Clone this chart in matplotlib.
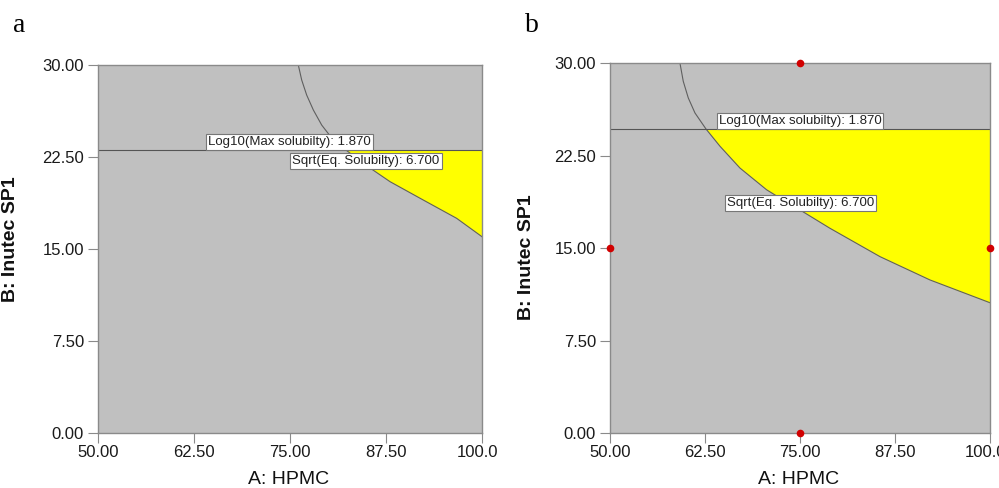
import numpy as np
import matplotlib
matplotlib.use("Agg")
import matplotlib.pyplot as plt
from matplotlib.transforms import Bbox, TransformedBbox

# Axis ranges and ticks
x_ticks = [50.0, 62.5, 75.0, 87.5, 100.0]
y_ticks = [0.0, 7.5, 15.0, 22.5, 30.0]

# Panel a: Sqrt(Eq. Solubility) = 6.700 contour and Log10(Max solubility) = 1.870 line
a_curve_x = [76.08, 76.52, 77.17, 78.04, 79.13, 80.64, 82.16, 84.54,
             88.02, 92.36, 96.70, 100.0]
a_curve_y = [30.0, 28.78, 27.55, 26.33, 25.10, 23.88, 23.13, 21.98,
             20.49, 18.99, 17.50, 16.0]
a_line_y = 23.1

# Panel b
b_curve_x = [59.21, 59.64, 60.30, 61.18, 62.63, 64.47, 67.10, 70.60,
             74.10, 75.00, 78.95, 85.53, 92.10, 100.0]
b_curve_y = [30.0, 28.54, 27.19, 25.97, 24.67, 23.27, 21.50, 19.74,
             18.40, 18.10, 16.61, 14.31, 12.42, 10.57]
b_line_y = 24.67

# Design points
design_x = [75.0, 50.0, 100.0, 75.0]
design_y = [30.0, 15.0, 15.0, 0.0]

line_label = "Log10(Max solubilty): 1.870"
curve_label = "Sqrt(Eq. Solubilty): 6.700"

GREY = "#c0c0c0"
YELLOW = "#ffff00"
FRAME = "#8a8a8a"

plt.rcParams["font.family"] = ["Liberation Sans", "DejaVu Sans"]

fig = plt.figure(figsize=(9.99, 4.88), dpi=100)
ax_a = fig.add_axes([0.0981, 0.1127, 0.3844, 0.7541])
ax_b = fig.add_axes([0.6106, 0.1127, 0.3804, 0.7576])


def draw_panel(ax, cx, cy, line_y, label_pos, curve_pos, ylab_pos):
    cx = np.array(cx)
    cy = np.array(cy)
    ax.set_facecolor(GREY)
    ax.set_xlim(50, 100)
    ax.set_ylim(0, 30)

    # feasible (yellow) region: below the max-solubility line, above the contour
    ax.fill_between(cx, cy, line_y, where=cy <= line_y, interpolate=True,
                    color=YELLOW, linewidth=0, zorder=1)
    ax.plot(cx, cy, color="#5f5f5f", linewidth=0.8, zorder=2)
    ax.axhline(line_y, color="#555555", linewidth=0.8, zorder=2)

    box = dict(boxstyle="square,pad=0.15", facecolor="white",
               edgecolor="#777777", linewidth=0.8)
    ax.text(*label_pos, line_label, fontsize=9.5, ha="center", va="center",
            color="#222222", bbox=box, zorder=4)
    ax.text(*curve_pos, curve_label, fontsize=9.5, ha="center", va="center",
            color="#222222", bbox=box, zorder=4)

    ax.set_xticks(x_ticks)
    ax.set_yticks(y_ticks)
    ax.set_xticklabels([f"{v:.2f}" for v in x_ticks])
    ax.set_yticklabels([f"{v:.2f}" for v in y_ticks])
    ax.tick_params(axis="both", direction="out", length=7, width=0.8,
                   color=FRAME, labelsize=12, labelcolor="#1a1a1a")
    ax.tick_params(axis="x", pad=1.5)
    ax.tick_params(axis="y", pad=3)
    for s in ax.spines.values():
        s.set_color(FRAME)
        s.set_linewidth(1.0)

    ax.set_xlabel("A: HPMC", fontsize=14, color="#111111")
    ax.set_ylabel("B: Inutec SP1", fontsize=14, fontweight="bold",
                  color="#111111")
    ax.xaxis.set_label_coords(0.495, -0.104)
    ax.yaxis.set_label_coords(*ylab_pos)


draw_panel(ax_a, a_curve_x, a_curve_y, a_line_y,
           (74.9, 23.75), (84.9, 22.15), (-0.206, 0.527))
draw_panel(ax_b, b_curve_x, b_curve_y, b_line_y,
           (75.0, 25.3), (75.1, 18.65), (-0.197, 0.476))

ax_b.plot(design_x, design_y, "o", color="#d10000", markersize=5.5,
          markeredgewidth=0, clip_on=False, zorder=5)

# left panel's last tick label is cut at the panel boundary
left_half = TransformedBbox(Bbox([[0, 0], [0.498, 1]]), fig.transFigure)
for t in ax_a.xaxis.get_major_ticks():
    t.label1.set_clip_box(left_half)
    t.label1.set_clip_on(True)

fig.text(0.013, 0.935, "a", fontsize=20, family="Liberation Serif",
         ha="left", va="baseline")
fig.text(0.526, 0.935, "b", fontsize=20, family="Liberation Serif",
         ha="left", va="baseline")

fig.savefig("out.png", dpi=100)
